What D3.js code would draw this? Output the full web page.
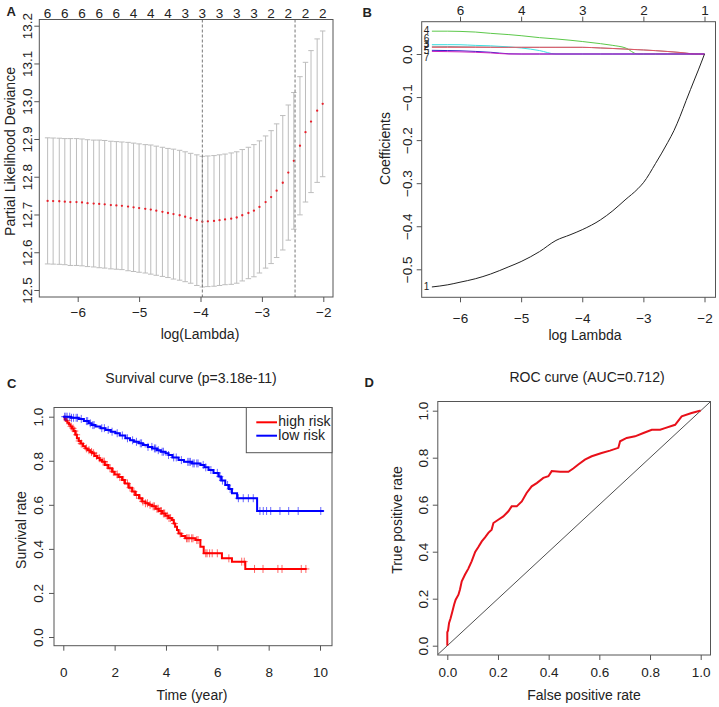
<!DOCTYPE html>
<html><head><meta charset="utf-8">
<script src="https://cdn.jsdelivr.net/npm/d3@7"></script>
<style>
body{margin:0;background:#fff;}
svg text{font-family:"Liberation Sans",Arial,Helvetica,sans-serif;fill:#222;}
</style></head><body>
<svg id="c" width="719" height="707"></svg>
<script>
// ---------------- DATA ----------------
// Panel A: cross-validation curve
const cvLogLambda = [-6.49,-6.40,-6.30,-6.21,-6.12,-6.02,-5.93,-5.84,-5.74,-5.65,-5.56,-5.46,-5.37,-5.28,-5.18,-5.09,-5.00,-4.90,-4.81,-4.72,-4.62,-4.53,-4.44,-4.34,-4.25,-4.16,-4.06,-3.97,-3.88,-3.78,-3.69,-3.60,-3.50,-3.41,-3.32,-3.22,-3.13,-3.04,-2.94,-2.85,-2.76,-2.66,-2.57,-2.48,-2.38,-2.29,-2.20,-2.10,-2.01];
const cvMean = [12.736,12.7355,12.735,12.734,12.733,12.733,12.732,12.730,12.729,12.728,12.727,12.725,12.724,12.723,12.721,12.719,12.717,12.715,12.713,12.710,12.707,12.704,12.701,12.698,12.694,12.690,12.685,12.681,12.682,12.683,12.685,12.687,12.689,12.692,12.698,12.704,12.710,12.720,12.733,12.746,12.763,12.784,12.811,12.842,12.882,12.918,12.946,12.975,12.993];
const cvSd = [0.167,0.167,0.167,0.167,0.168,0.168,0.168,0.168,0.168,0.169,0.169,0.169,0.169,0.169,0.170,0.170,0.170,0.170,0.171,0.171,0.171,0.171,0.172,0.172,0.172,0.172,0.173,0.173,0.173,0.173,0.173,0.173,0.174,0.174,0.174,0.174,0.175,0.175,0.175,0.176,0.177,0.178,0.179,0.181,0.183,0.185,0.188,0.190,0.193];
const cvNzero = [6,6,6,6,6,6,6,6,6,6,6,6,6,6,4,4,4,4,4,4,4,4,4,3,3,3,3,3,3,3,3,3,3,3,3,3,3,2,2,2,2,2,2,2,2,2,2,2,2];
const lambdaMin = -3.97, lambda1se = -2.46;
const aXTicks = [-6,-5,-4,-3,-2];
const aYTicks = [12.5,12.6,12.7,12.8,12.9,13.0,13.1,13.2];

// Panel B: coefficient paths
const bLogLambda = [-6.46,-6.2,-6.0,-5.75,-5.5,-5.2,-5.0,-4.7,-4.43,-4.2,-4.0,-3.7,-3.5,-3.3,-3.09,-3.0,-2.8,-2.6,-2.5,-2.4,-2.3,-2.16,-2.1,-2.0];
const coefGray    = [0.0178,0.0175,0.0170,0.0165,0.0160,0.0155,0.0155,0.0155,0.0155,0.0155,0.0155,0.014,0.0128,0.0115,0.010,0.0094,0.0078,0.0058,0.0047,0.0035,0.002,0,0,0];
const coefGreen   = [0.053,0.053,0.0525,0.051,0.048,0.045,0.0425,0.038,0.035,0.032,0.029,0.024,0.020,0.0145,0,0,0,0,0,0,0,0,0,0];
const coefCyan    = [0.0217,0.0217,0.0215,0.020,0.019,0.0165,0.014,0.008,0,0,0,0,0,0,0,0,0,0,0,0,0,0,0,0];
const coefRed     = [0.0155,0.0155,0.0155,0.0155,0.0155,0.0155,0.0155,0.0155,0.0155,0.0155,0.0155,0.014,0.0128,0.0115,0.010,0.0094,0.0078,0.0058,0.0047,0.0035,0.002,0,0,0];
const coefBlue    = [0.0085,0.008,0.0075,0.006,0.004,0.0005,0,0,0,0,0,0,0,0,0,0,0,0,0,0,0,0,0,0];
const coefMagenta = [0.006,0.0055,0.005,0.004,0.0025,0,0,0,0,0,0,0,0,0,0,0,0,0,0,0,0,0,0,0];
const coefBlack   = [-0.541,-0.536,-0.530,-0.522,-0.511,-0.494,-0.482,-0.459,-0.433,-0.420,-0.408,-0.385,-0.364,-0.339,-0.313,-0.299,-0.254,-0.205,-0.178,-0.145,-0.108,-0.058,-0.037,0];
const bLabelNames = ["4","6","3","2","5","7","1"];
const bLabelValues = [0.055,0.035,0.0226,0.017,0.007,-0.0086,-0.541];
const bTopTicks = [-6,-5,-4,-3,-2];
const bTopLabels = ["6","4","3","2","1"];
const bXTicks = [-6,-5,-4,-3,-2];
const bYTicks = [-0.5,-0.4,-0.3,-0.2,-0.1,0.0];

// Panel C: Kaplan-Meier curves
const highTime = [0,0.05,0.10,0.16,0.22,0.28,0.34,0.40,0.47,0.53,0.60,0.68,0.77,0.86,0.95,1.05,1.12,1.22,1.32,1.42,1.51,1.62,1.75,1.90,2.00,2.15,2.29,2.40,2.55,2.68,2.80,2.95,3.07,3.20,3.33,3.46,3.60,3.72,3.85,3.98,4.10,4.23,4.30,4.36,4.43,4.49,4.60,4.75,5.15,5.34,5.47,6.18,6.57,7.09];
const highSurv = [1,0.990,0.982,0.973,0.965,0.956,0.947,0.935,0.918,0.902,0.890,0.878,0.866,0.856,0.848,0.840,0.834,0.822,0.812,0.804,0.796,0.781,0.766,0.750,0.738,0.726,0.713,0.697,0.678,0.660,0.645,0.630,0.615,0.607,0.600,0.593,0.582,0.572,0.561,0.550,0.540,0.531,0.515,0.501,0.486,0.470,0.458,0.448,0.440,0.410,0.380,0.357,0.342,0.309];
const highEnd = 9.48;
const highCensor = [0.15,0.30,0.38,0.45,0.52,0.62,0.70,0.90,1.00,1.10,1.18,1.30,1.40,1.55,1.60,1.70,1.82,1.95,2.10,2.20,2.35,2.50,2.60,2.75,2.85,3.00,3.10,3.20,3.28,3.38,3.50,3.55,3.65,3.70,3.78,3.82,3.90,3.95,4.05,4.12,4.18,4.33,4.55,4.80,4.85,4.90,5.00,5.05,5.20,5.25,5.55,5.60,5.70,5.80,6.00,6.45,6.95,7.05,7.45,7.78,8.36,8.52,9.27,9.45];
const lowTime = [0,0.30,0.60,0.80,0.99,1.10,1.25,1.45,1.64,1.85,2.03,2.20,2.42,2.60,2.75,2.94,3.10,3.30,3.46,3.65,3.80,3.98,4.10,4.25,4.49,4.70,5.01,5.34,5.50,5.66,5.85,6.05,6.15,6.31,6.45,6.57,6.77,7.55];
const lowSurv = [1,0.995,0.990,0.980,0.970,0.962,0.955,0.948,0.940,0.932,0.925,0.915,0.902,0.893,0.886,0.879,0.871,0.863,0.856,0.848,0.841,0.834,0.826,0.815,0.803,0.795,0.788,0.781,0.770,0.758,0.745,0.728,0.710,0.690,0.672,0.652,0.630,0.572];
const lowEnd = 10.15;
const lowCensor = [0.05,0.10,0.15,0.25,0.32,0.40,0.50,0.55,0.70,0.90,0.95,1.05,1.15,1.20,1.50,1.60,1.75,1.90,2.10,2.30,2.50,2.70,2.85,3.00,3.05,3.30,3.45,3.55,3.60,3.70,3.85,3.90,4.10,4.30,4.40,4.60,4.85,4.90,4.95,5.05,5.10,5.20,5.25,5.45,5.55,5.75,6.00,6.10,6.20,6.40,6.50,6.82,7.01,7.21,7.40,7.66,7.79,7.92,8.08,8.44,8.78,9.15,10.03];
const groups = ["high risk","low risk"];
const cXTicks = [0,2,4,6,8,10];
const cYTicks = [0,0.2,0.4,0.6,0.8,1.0];

// Panel D: ROC curve
const rocFpr = [0,0,0.003,0.007,0.013,0.020,0.027,0.033,0.044,0.050,0.057,0.070,0.083,0.096,0.110,0.122,0.136,0.149,0.162,0.175,0.182,0.201,0.221,0.241,0.254,0.274,0.294,0.313,0.333,0.353,0.379,0.399,0.412,0.445,0.478,0.497,0.517,0.543,0.570,0.609,0.642,0.675,0.682,0.708,0.741,0.774,0.807,0.840,0.859,0.899,0.925,0.964,0.997,1.0];
const rocTpr = [0,0.057,0.065,0.097,0.117,0.146,0.175,0.196,0.217,0.239,0.274,0.303,0.328,0.359,0.399,0.419,0.444,0.461,0.480,0.494,0.522,0.536,0.550,0.572,0.593,0.593,0.614,0.650,0.678,0.692,0.714,0.721,0.743,0.740,0.740,0.754,0.771,0.792,0.806,0.820,0.830,0.842,0.870,0.884,0.891,0.905,0.919,0.919,0.926,0.940,0.976,0.990,1.0,1.0];
const dTicks = [0,0.2,0.4,0.6,0.8,1.0];

// ---------------- DRAWING ----------------
const svg = d3.select("#c");
const AX = "#555", TXT = "#222", TICKFS = 13.5;

function frame(x0,y0,x1,y1){
  svg.append("rect").attr("x",x0).attr("y",y0).attr("width",x1-x0).attr("height",y1-y0)
    .attr("fill","none").attr("stroke",AX).attr("stroke-width",1);
}
function bottomAxis(scale, vals, fmt, yPos, labY, size){
  const g = svg.append("g").attr("transform",`translate(0,${yPos})`)
    .call(d3.axisBottom(scale).tickValues(vals).tickFormat(fmt).tickSize(5).tickSizeOuter(0));
  g.select(".domain").remove();
  g.selectAll(".tick line").attr("stroke",AX);
  g.selectAll(".tick text").attr("y",labY).attr("dy",0).attr("font-size",size).attr("fill",TXT);
  return g;
}
function leftAxis(scale, vals, fmt, xPos, dist, size){
  const g = svg.append("g").attr("transform",`translate(${xPos},0)`)
    .call(d3.axisLeft(scale).tickValues(vals).tickFormat(fmt).tickSize(5).tickSizeOuter(0));
  g.select(".domain").remove();
  g.selectAll(".tick line").attr("stroke",AX);
  g.selectAll(".tick text").attr("x",0).attr("y",-dist).attr("dy",0)
    .attr("transform","rotate(-90)").attr("text-anchor","middle").attr("font-size",size).attr("fill",TXT);
  return g;
}
function label(txt,x,y,opts={}){
  const t = svg.append("text").attr("x",x).attr("y",y).text(txt)
    .attr("font-size",opts.size||14).attr("text-anchor",opts.anchor||"middle");
  if(opts.rot) t.attr("transform",`rotate(-90,${x},${y})`);
  if(opts.bold) t.attr("font-weight","bold");
  return t;
}
const f1 = d3.format(".1f");

// ===== Panel A =====
{
  const x0=39.3,x1=333,y0=19.5,y1=297;
  const x = d3.scaleLinear().domain([-6,-2]).range([77.7,323.3]);
  const y = d3.scaleLinear().domain([12.5,13.2]).range([290,25.7]);
  const capW = 0.01*(d3.max(cvLogLambda)-d3.min(cvLogLambda));
  const bars = svg.append("g").attr("stroke","#bdbdbd").attr("stroke-width",1);
  cvLogLambda.forEach((l,i)=>{
    const lo=cvMean[i]-cvSd[i], hi=cvMean[i]+cvSd[i];
    bars.append("line").attr("x1",x(l)).attr("x2",x(l)).attr("y1",y(lo)).attr("y2",y(hi));
    bars.append("line").attr("x1",x(l-capW)).attr("x2",x(l+capW)).attr("y1",y(lo)).attr("y2",y(lo));
    bars.append("line").attr("x1",x(l-capW)).attr("x2",x(l+capW)).attr("y1",y(hi)).attr("y2",y(hi));
  });
  svg.append("g").selectAll("circle").data(cvLogLambda).join("circle")
    .attr("cx",d=>x(d)).attr("cy",(d,i)=>y(cvMean[i])).attr("r",1.15).attr("fill","#e8202a");
  [lambdaMin,lambda1se].forEach(v=>{
    svg.append("line").attr("x1",x(v)).attr("x2",x(v)).attr("y1",y0).attr("y2",y1)
      .attr("stroke","#777").attr("stroke-width",1).attr("stroke-dasharray","3,2");
  });
  frame(x0,y0,x1,y1);
  bottomAxis(x, aXTicks, d3.format("d"), y1, 19.5, TICKFS);
  leftAxis(y, aYTicks, f1, x0, 7.0, TICKFS);
  // top nzero labels
  svg.append("g").selectAll("text").data(cvLogLambda.filter((d,i)=>i%3===0)).join("text")
    .attr("x",d=>x(d)).attr("y",18.3).attr("text-anchor","middle").attr("font-size",TICKFS)
    .text(d=>cvNzero[cvLogLambda.indexOf(d)]);
  label("Partial Likelihood Deviance",15.4,151.5,{rot:true});
  label("log(Lambda)",200,338.5);
  label("A",6.5,16,{anchor:"start",bold:true,size:13});
}

// ===== Panel B =====
{
  const x0=421.7,x1=715.5,y0=21.7,y1=297.3;
  const x = d3.scaleLinear().domain([-6,-2]).range([460,704.5]);
  const y = d3.scaleLinear().domain([-0.5,0]).range([269.3,54]);
  const line = d3.line().x((d,i)=>x(bLogLambda[i])).y(d=>y(d)).curve(d3.curveMonotoneX);
  const series = [
    [coefGray,"#9a9a9a"],[coefGreen,"#5cc84a"],[coefCyan,"#3fe0e2"],[coefRed,"#e05565"],
    [coefBlue,"#3a22c8"],[coefBlack,"#222"],[coefMagenta,"#cc22c0"]];
  series.forEach(([vals,col])=>{
    svg.append("path").attr("d",line(vals)).attr("fill","none").attr("stroke",col).attr("stroke-width",1);
  });
  frame(x0,y0,x1,y1);
  bottomAxis(x, bXTicks, d3.format("d"), y1, 25.7, TICKFS);
  leftAxis(y, bYTicks, f1, x0, 10.2, TICKFS);
  const gt = svg.append("g").attr("transform",`translate(0,${y0})`)
    .call(d3.axisTop(x).tickValues(bTopTicks).tickFormat((d,i)=>bTopLabels[i]).tickSize(5).tickSizeOuter(0));
  gt.select(".domain").remove();
  gt.selectAll(".tick line").attr("stroke",AX);
  gt.selectAll(".tick text").attr("y",-6.7).attr("dy",0).attr("font-size",TICKFS).attr("fill",TXT);
  svg.append("g").selectAll("text").data(bLabelNames).join("text")
    .attr("x",426.5).attr("y",(d,i)=>y(bLabelValues[i])+3.5).attr("text-anchor","middle")
    .attr("font-size",10).text(d=>d);
  label("Coefficients",390,148.5,{rot:true});
  label("log Lambda",585,339.5);
  label("B",362.5,17,{anchor:"start",bold:true,size:13});
}

// ===== Panel C =====
{
  const x0=54,x1=332,y0=407.5,y1=645.7;
  const x = d3.scaleLinear().domain([0,10]).range([63.3,320]);
  const y = d3.scaleLinear().domain([0,1]).range([637,416.7]);
  const step = d3.line().x(d=>x(d[0])).y(d=>y(d[1])).curve(d3.curveStepAfter);
  const km = [
    [highTime,highSurv,highEnd,highCensor,"#ff0000"],
    [lowTime,lowSurv,lowEnd,lowCensor,"#0000ff"]];
  km.forEach(([t,s,end,cen,col])=>{
    const pts = t.map((d,i)=>[d,s[i]]); pts.push([end,s[s.length-1]]);
    svg.append("path").attr("d",step(pts)).attr("fill","none").attr("stroke",col).attr("stroke-width",2);
    const survAt = tt=>{ let v=1; t.forEach((d,i)=>{ if(d<=tt) v=s[i]; }); return v; };
    const g = svg.append("g").attr("stroke",col).attr("stroke-width",1).attr("stroke-opacity",0.6);
    cen.forEach(c=>{
      const cx=x(c), cy=y(survAt(c));
      g.append("line").attr("x1",cx).attr("x2",cx).attr("y1",cy-4).attr("y2",cy+4);
      g.append("line").attr("x1",cx-3.5).attr("x2",cx+3.5).attr("y1",cy).attr("y2",cy);
    });
  });
  frame(x0,y0,x1,y1);
  bottomAxis(x, cXTicks, d3.format("d"), y1, 31, TICKFS);
  leftAxis(y, cYTicks, f1, x0, 11.2, TICKFS);
  // legend
  const lx0=246.3, ly1=452.7;
  svg.append("rect").attr("x",lx0).attr("y",y0).attr("width",x1-lx0).attr("height",ly1-y0)
    .attr("fill","#fff").attr("stroke",AX);
  [["#ff0000",422.3,425.5],["#0000ff",435.7,440]].forEach(([col,ly,ty],i)=>{
    svg.append("line").attr("x1",256.3).attr("x2",277).attr("y1",ly).attr("y2",ly).attr("stroke",col).attr("stroke-width",2);
    svg.append("text").attr("x",278.3).attr("y",ty).attr("font-size",14).text(groups[i]);
  });
  label("Survival curve (p=3.18e-11)",191,382.5);
  label("Survival rate",26,530,{rot:true});
  label("Time (year)",192,700);
  label("C",7,388,{anchor:"start",bold:true,size:13});
}

// ===== Panel D =====
{
  const x0=437.8,x1=710.5,y0=401.5,y1=655;
  const x = d3.scaleLinear().domain([0,1]).range([447.3,700.7]);
  const y = d3.scaleLinear().domain([0,1]).range([645.7,410.7]);
  const lo = x.invert(x0), hi = x.invert(x1);
  svg.append("line").attr("x1",x(lo)).attr("y1",y(lo)).attr("x2",x(hi)).attr("y2",y(hi))
    .attr("stroke","#222").attr("stroke-width",0.8);
  const line = d3.line().x(d=>x(d)).y((d,i)=>y(rocTpr[i]));
  svg.append("path").attr("d",line(rocFpr)).attr("fill","none").attr("stroke","#e8101a").attr("stroke-width",2);
  frame(x0,y0,x1,y1);
  bottomAxis(x, dTicks, f1, y1, 21.7, TICKFS);
  leftAxis(y, dTicks, f1, x0, 10.0, TICKFS);
  label("ROC curve (AUC=0.712)",587,382);
  label("True positive rate",401.6,520,{rot:true});
  label("False positive rate",584,700);
  label("D",364.5,386.5,{anchor:"start",bold:true,size:13});
}
</script></body></html>
